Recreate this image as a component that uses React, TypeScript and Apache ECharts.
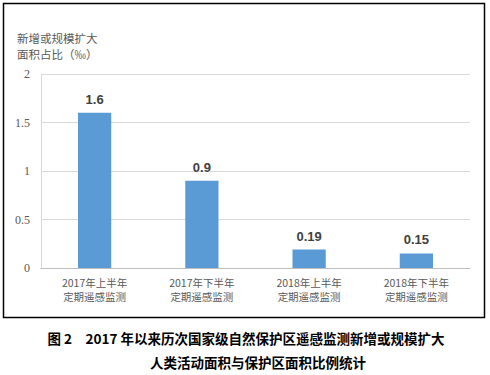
import React, { useEffect, useRef } from "react";
import * as echarts from "echarts";

const categories = ["2017年上半年\n定期遥感监测", "2017年下半年\n定期遥感监测", "2018年上半年\n定期遥感监测", "2018年下半年\n定期遥感监测"];
const values = [1.6, 0.9, 0.19, 0.15];
const yTitle = ["新增或规模扩大", "面积占比（‰）"];
const captionLines = ["图 2　2017 年以来历次国家级自然保护区遥感监测新增或规模扩大", "人类活动面积与保护区面积比例统计"];

export default function App() {
  const ref = useRef<HTMLDivElement>(null);
  useEffect(() => {
    const chart = echarts.init(ref.current!, null, { renderer: "svg" });
    chart.setOption({
      animation: false,
      backgroundColor: "#ffffff",
      grid: { left: 41, right: 20, top: 74, bottom: 107, containLabel: false },
      xAxis: {
        type: "category",
        data: categories,
        axisLine: { show: true, lineStyle: { color: "#bfbfbf", width: 1 } },
        axisTick: { show: false },
        axisLabel: {
          color: "#595959",
          fontSize: 10.5,
          lineHeight: 14,
          margin: 7,
          fontFamily: "Noto Sans CJK SC",
        },
      },
      yAxis: {
        type: "value",
        min: 0,
        max: 2,
        interval: 0.5,
        axisLine: { show: true, lineStyle: { color: "#d9d9d9" } },
        axisTick: { show: false },
        axisLabel: { color: "#595959", fontSize: 12, margin: 11, fontFamily: "Liberation Serif" },
        splitLine: { lineStyle: { color: "#d9d9d9", width: 1 } },
      },
      series: [
        {
          type: "bar",
          data: values,
          barWidth: "31%",
          itemStyle: { color: "#5B9BD5" },
          label: {
            show: true,
            position: "top",
            distance: 7,
            color: "#404040",
            fontSize: 13,
            fontWeight: "bold",
            fontFamily: "Liberation Sans",
          },
        },
      ],
      graphic: [
        {
          type: "rect",
          shape: { x: 3.5, y: 3.5, width: 481, height: 314 },
          style: { fill: "none", stroke: "#000000", lineWidth: 1.5 },
          silent: true,
        },
        {
          type: "text",
          x: 17,
          y: 30,
          style: {
            text: yTitle.join("\n"),
            fill: "#595959",
            fontSize: 11.5,
            lineHeight: 16,
            fontFamily: "Noto Sans CJK SC",
          },
        },
        {
          type: "text",
          x: 246,
          y: 338,
          style: {
            text: captionLines[0],
            fill: "#000000",
            fontSize: 13.5,
            fontWeight: "bold",
            fontFamily: "Noto Sans CJK SC",
            textAlign: "center",
            textVerticalAlign: "middle",
          },
        },
        {
          type: "text",
          x: 258,
          y: 362,
          style: {
            text: captionLines[1],
            fill: "#000000",
            fontSize: 13.5,
            fontWeight: "bold",
            fontFamily: "Noto Sans CJK SC",
            textAlign: "center",
            textVerticalAlign: "middle",
          },
        },
      ],
    });
    return () => chart.dispose();
  }, []);
  return (
    <div
      ref={ref}
      style={{ position: "absolute", left: 0, top: 0, width: 490, height: 375 }}
    />
  );
}
